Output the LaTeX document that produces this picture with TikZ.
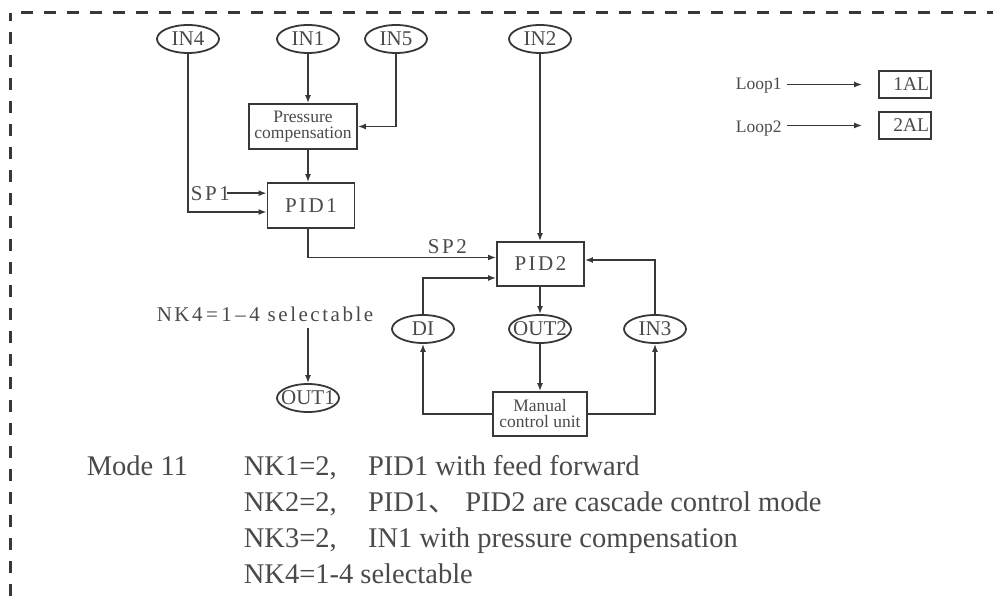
\documentclass[tikz,border=0pt]{standalone}
\usepackage{fontspec}
\setmainfont{Liberation Serif}
\newfontfamily\simfont[LetterSpace=12]{Liberation Serif}
\newfontfamily\cjk{Noto Sans CJK SC}
\usetikzlibrary{shapes.geometric,arrows.meta,calc}
\definecolor{ink}{HTML}{383838}
\definecolor{txt}{HTML}{4A4A4A}
\newcommand{\portlabel}[1]{\makebox[0pt]{#1}}

\begin{document}
\begin{tikzpicture}[x=1pt,y=-1pt,>={Latex[length=8pt,width=6pt]},line width=1.8pt,color=ink,
  port/.style={ellipse,draw,minimum width=62pt,minimum height=28pt,inner sep=0pt,text=txt,font=\fontsize{21}{21}\selectfont},
  pidbox/.style={draw,minimum width=87pt,minimum height=45pt,inner sep=0pt,text=txt,font=\simfont\fontsize{21}{21}\selectfont},
  unitbox/.style={draw,align=center,inner sep=0pt,text=txt,font=\fontsize{17.5}{16}\selectfont},
  alarmbox/.style={draw,minimum height=27pt,text width=48pt,align=right,inner xsep=2pt,inner ysep=0pt,text=txt,font=\fontsize{19.5}{19.5}\selectfont},
  lbl/.style={inner sep=0pt,text=txt,font=\simfont\fontsize{21}{21}\selectfont},
  looplbl/.style={anchor=base west,inner sep=0pt,text=txt,font=\fontsize{17.5}{17.5}\selectfont},
  note/.style={anchor=base west,inner sep=0pt,text=txt,font=\fontsize{28.5}{28.5}\selectfont}]
  \useasboundingbox (0,0) rectangle (993,607);
  % frame
  \draw[line width=3pt,dash pattern=on 12pt off 11pt,dash phase=4pt] (10,13) -- (10,607);
  \draw[line width=3pt,dash pattern=on 12pt off 11pt,dash phase=12pt] (10,13) -- (993,13);

  % inputs
  \node[port] (in4) at (188,39) {\portlabel{IN4}};
  \node[port] (in1) at (308,39) {\portlabel{IN1}};
  \node[port] (in5) at (396,39) {\portlabel{IN5}};
  \node[port] (in2) at (540,39) {\portlabel{IN2}};

  % blocks
  \node[unitbox,minimum width=108pt,minimum height=45pt] (comp) at (303,126.5) {Pressure\\compensation};
  \node[pidbox] (pid1) at (311,205.5) {PID1};
  \node[lbl,anchor=base west] (sp1) at (190,200) {SP1};
  \node[pidbox,minimum height=44pt] (pid2) at (540.5,264) {PID2};
  \node[lbl,anchor=base west] (sp2) at (427,253) {SP2};
  \node[port] (di) at (423,329) {\portlabel{DI}};
  \node[port] (out2) at (540,329) {\portlabel{OUT2}};
  \node[port] (in3) at (655,329) {\portlabel{IN3}};
  \node[unitbox,minimum width=94pt,minimum height=44pt] (manual) at (540,414) {Manual\\control unit};
  \node[lbl,anchor=base] (sel) at (265,321) {NK4\,=\,1\,\textendash\,4\ selectable};
  \node[port] (out1) at (308,398) {\portlabel{OUT1}};

  % connections
  \draw[->] (in1) -- (in1 |- comp.north);
  \draw[->] (in5) |- (comp);
  \draw[->] (in1 |- comp.south) -- (in1 |- pid1.north);
  \draw[->] ([xshift=-4pt]sp1.east) -- (sp1.east -| pid1.west);
  \draw[->] (in4) |- ($(pid1.west)+(0,6.5)$);
  \draw[->] (in1 |- pid1.south) |- ($(pid2.west)+(0,-6.5)$);
  \draw[->] (in2) -- (in2 |- pid2.north);
  \draw[->] (di) |- ($(pid2.west)+(0,14)$);
  \draw[->] (out2 |- pid2.south) -- (out2);
  \draw[->] (out2) -- (out2 |- manual.north);
  \draw[->] (manual) -| (di);
  \draw[->] (manual) -| (in3);
  \draw[->] (in3) |- ($(pid2.east)+(0,-4)$);
  \draw[->,shorten <=6pt] (out1 |- sel.south) -- (out1);

  % alarms
  \node[looplbl] (loop1) at (735,90) {Loop1};
  \node[alarmbox] (al1) at (905,84.5) {1AL};
  \node[looplbl] (loop2) at (735,133) {Loop2};
  \node[alarmbox] (al2) at (905,125.5) {2AL};
  \draw[->,shorten <=5pt,shorten >=16pt] (loop1.east |- al1) -- (al1);
  \draw[->,shorten <=5pt,shorten >=16pt] (loop2.east |- al2) -- (al2);

  % mode text
  \node[note] (mode) at (86,475) {Mode 11};
  \node[note] (nk1) at (243,475) {NK1=2,\hspace{1.1em}PID1 with feed forward};
  \node[note] (nk2) at (243,511) {NK2=2,\hspace{1.1em}PID1{\cjk 、}\hspace{0.3em}PID2 are cascade control mode};
  \node[note] (nk3) at (243,547) {NK3=2,\hspace{1.1em}IN1 with pressure compensation};
  \node[note] (nk4) at (243,583) {NK4=1-4 selectable};
\end{tikzpicture}
\end{document}
